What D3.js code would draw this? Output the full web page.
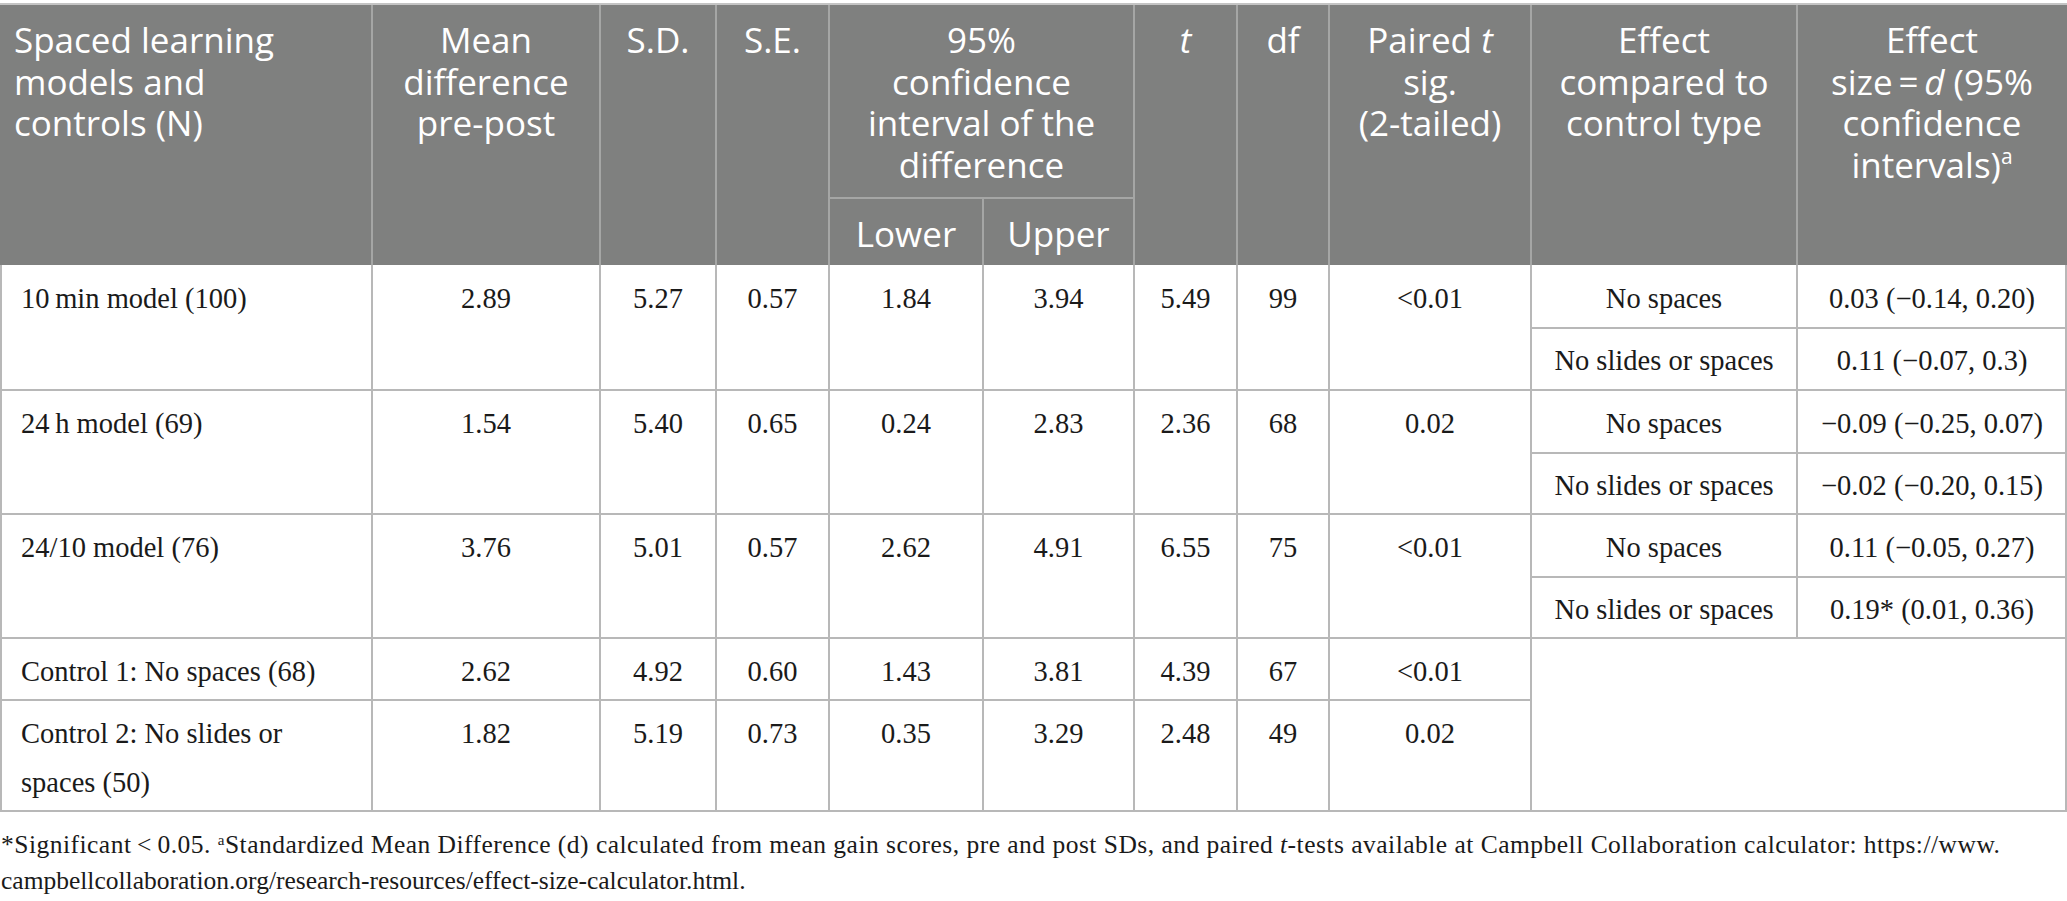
<!DOCTYPE html>
<html>
<head>
<meta charset="utf-8">
<script src="https://cdn.jsdelivr.net/npm/d3@7"></script>
<style>
  body { margin: 0; background: #fff; }
  svg { display: block; }
  .hd { font-family: "Open Sans", sans-serif; font-size: 35px; fill: #fff; }
  .bd { font-family: "Liberation Serif", serif; font-size: 28.5px; fill: #1a1a1a; }
  .fn { font-family: "Liberation Serif", serif; font-size: 25.5px; fill: #1a1a1a; }
</style>
</head>
<body>
<div id="chart"></div>
<script>
// Table data
const rowLabels = [
    ["10\u2009min model (100)"],
    ["24\u2009h model (69)"],
    ["24/10 model (76)"],
    ["Control 1: No spaces (68)"],
    ["Control 2: No slides or", "spaces (50)"]
];
const meanDiff = ["2.89", "1.54", "3.76", "2.62", "1.82"];
const sdVals = ["5.27", "5.40", "5.01", "4.92", "5.19"];
const seVals = ["0.57", "0.65", "0.57", "0.60", "0.73"];
const ciLower = ["1.84", "0.24", "2.62", "1.43", "0.35"];
const ciUpper = ["3.94", "2.83", "4.91", "3.81", "3.29"];
const tVals = ["5.49", "2.36", "6.55", "4.39", "2.48"];
const dfVals = ["99", "68", "75", "67", "49"];
const sigVals = ["<0.01", "0.02", "<0.01", "<0.01", "0.02"];
const controlTypes = ["No spaces", "No slides or spaces"];
const effectSizes = [
    ["0.03 (\u22120.14, 0.20)", "0.11 (\u22120.07, 0.3)"],
    ["\u22120.09 (\u22120.25, 0.07)", "\u22120.02 (\u22120.20, 0.15)"],
    ["0.11 (\u22120.05, 0.27)", "0.19* (0.01, 0.36)"]
];

// Header labels (markup: <i> italic, <sup> superscript)
const headerLabels = [
    ["Spaced learning", "models and", "controls (N)"],
    ["Mean", "difference", "pre-post"],
    ["S.D."],
    ["S.E."],
    ["95%", "confidence", "interval of the", "difference"],
    ["<i>t</i>"],
    ["df"],
    ["Paired <i>t</i>", "sig.", "(2-tailed)"],
    ["Effect", "compared to", "control type"],
    ["Effect", "size\u2009=\u2009<i>d</i> (95%", "confidence", "intervals)<sup>a</sup>"]
];
const subHeaderLabels = ["Lower", "Upper"];

const footnoteLines = [
    "*Significant\u2009<\u20090.05. <sup>a</sup>Standardized Mean Difference (d) calculated from mean gain scores, pre and post SDs, and paired <i>t</i>-tests available at Campbell Collaboration calculator: https://www.",
    "campbellcollaboration.org/research-resources/effect-size-calculator.html."
];

// Layout
const width = 2067, height = 901;
const colKeys = ["label", "mean", "sd", "se", "lower", "upper", "t", "df", "sig", "ctrl", "effect"];
const colEdges = [0, 372, 600, 716, 829, 983, 1134, 1237, 1329, 1531, 1797, 2067];
const xLeft = d3.scaleOrdinal().domain(colKeys).range(colEdges.slice(0, -1));
const xRight = d3.scaleOrdinal().domain(colKeys).range(colEdges.slice(1));
const xMid = k => (xLeft(k) + xRight(k)) / 2;

const headTop = 5, subHeadY = 198, headBottom = 265;
const rowTops = [265, 390, 514, 638, 700];
const tableBottom = 811;
const y = d3.scaleOrdinal().domain(d3.range(rowTops.length)).range(rowTops);
const subRowOffset = 63;
const baseOff = 43, bodyLine = 49, headLine = 41.7;

const headFill = "#7f807f", headRule = "#a5a6a5", bodyRule = "#b8b8b8";

const svg = d3.select("#chart").append("svg")
    .attr("width", width)
    .attr("height", height);

// Write a line of markup into a text element
function addMarkup(textSel, markup, supSize) {
    const parts = markup.split(/(<i>.*?<\/i>|<sup>.*?<\/sup>)/).filter(s => s.length);
    parts.forEach(p => {
        if (p.startsWith("<i>")) {
            textSel.append("tspan").style("font-style", "italic").text(p.slice(3, -4));
        } else if (p.startsWith("<sup>")) {
            textSel.append("tspan").attr("baseline-shift", "super")
                .style("font-size", supSize).text(p.slice(5, -6));
        } else {
            textSel.append("tspan").text(p);
        }
    });
}

// Header background
svg.append("line")
    .attr("x1", 0).attr("x2", width).attr("y1", 4).attr("y2", 4)
    .attr("stroke", "#c4c4c4").attr("stroke-width", 2);
svg.append("rect")
    .attr("x", 0).attr("y", headTop)
    .attr("width", width).attr("height", headBottom - headTop)
    .attr("fill", headFill);

// Header rules
const headVerticals = colEdges.slice(1, -1).filter(e => e !== xLeft("upper"));
svg.selectAll(".hv").data(headVerticals).enter().append("line")
    .attr("x1", d => d).attr("x2", d => d)
    .attr("y1", headTop).attr("y2", headBottom)
    .attr("stroke", headRule).attr("stroke-width", 2);
svg.append("line")
    .attr("x1", xLeft("upper")).attr("x2", xLeft("upper"))
    .attr("y1", subHeadY).attr("y2", headBottom)
    .attr("stroke", headRule).attr("stroke-width", 2);
svg.append("line")
    .attr("x1", xLeft("lower")).attr("x2", xRight("upper"))
    .attr("y1", subHeadY).attr("y2", subHeadY)
    .attr("stroke", headRule).attr("stroke-width", 2);

// Header text
const headerCols = ["label", "mean", "sd", "se", "ci", "t", "df", "sig", "ctrl", "effect"];
headerLabels.forEach((lines, i) => {
    const key = headerCols[i];
    let cx, anchor;
    if (key === "label") { cx = 14; anchor = "start"; }
    else if (key === "ci") { cx = (xLeft("lower") + xRight("upper")) / 2; anchor = "middle"; }
    else { cx = xMid(key); anchor = "middle"; }
    lines.forEach((ln, j) => {
        const t = svg.append("text").attr("class", "hd")
            .attr("x", cx).attr("y", 53 + j * headLine)
            .attr("text-anchor", anchor);
        addMarkup(t, ln, "21px");
    });
});
subHeaderLabels.forEach((s, i) => {
    svg.append("text").attr("class", "hd")
        .attr("x", xMid(i === 0 ? "lower" : "upper")).attr("y", 247)
        .attr("text-anchor", "middle").text(s);
});

// Body rules
function rule(x1, x2, y1, y2) {
    svg.append("line")
        .attr("x1", x1).attr("x2", x2).attr("y1", y1).attr("y2", y2)
        .attr("stroke", bodyRule).attr("stroke-width", 2);
}
[1, 2, 3].forEach(r => rule(0, width, y(r), y(r)));
rule(0, xLeft("ctrl"), y(4), y(4));
rule(0, width, tableBottom, tableBottom);
effectSizes.forEach((d, r) => rule(xLeft("ctrl"), width, y(r) + subRowOffset, y(r) + subRowOffset));
[1, width - 1].forEach(x => rule(x, x, headBottom, tableBottom));
colEdges.slice(1, 9).forEach(x => rule(x, x, headBottom, tableBottom));
rule(xLeft("ctrl"), xLeft("ctrl"), headBottom, tableBottom);
rule(xLeft("effect"), xLeft("effect"), headBottom, y(3));

// Body text
const numCols = [
    ["mean", meanDiff], ["sd", sdVals], ["se", seVals], ["lower", ciLower],
    ["upper", ciUpper], ["t", tVals], ["df", dfVals], ["sig", sigVals]
];
rowLabels.forEach((lines, r) => {
    lines.forEach((ln, j) => {
        svg.append("text").attr("class", "bd")
            .attr("x", 21).attr("y", y(r) + baseOff + j * bodyLine)
            .text(ln);
    });
});
numCols.forEach(([key, vals]) => {
    svg.selectAll(".v-" + key).data(vals).enter().append("text")
        .attr("class", "bd")
        .attr("x", xMid(key))
        .attr("y", (d, r) => y(r) + baseOff)
        .attr("text-anchor", "middle")
        .text(d => d);
});
effectSizes.forEach((pair, r) => {
    pair.forEach((val, s) => {
        const yy = y(r) + baseOff + s * (subRowOffset - 1);
        svg.append("text").attr("class", "bd")
            .attr("x", xMid("ctrl")).attr("y", yy)
            .attr("text-anchor", "middle").text(controlTypes[s]);
        svg.append("text").attr("class", "bd")
            .attr("x", xMid("effect")).attr("y", yy)
            .attr("text-anchor", "middle").text(val);
    });
});

// Footnote (first line justified to the table width)
footnoteLines.forEach((ln, i) => {
    const t = svg.append("text").attr("class", "fn")
        .attr("x", 1).attr("y", 853 + i * 36);
    if (i === 0) t.attr("textLength", 1999).attr("lengthAdjust", "spacing");
    addMarkup(t, ln, "15px");
});
</script>
</body>
</html>
